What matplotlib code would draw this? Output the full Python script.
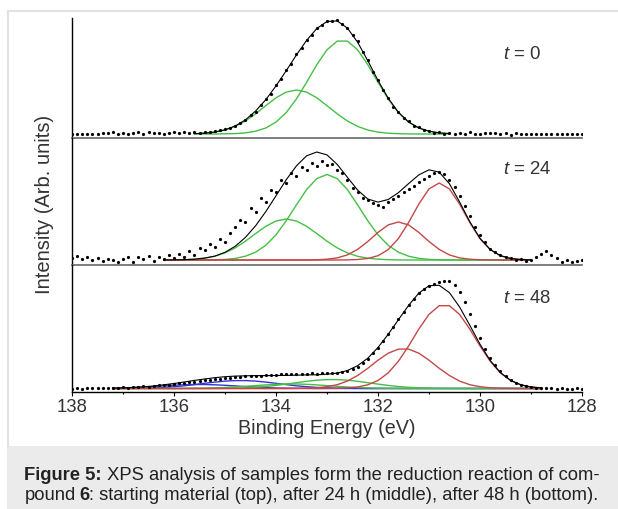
import numpy as np
import matplotlib
matplotlib.use("Agg")
from matplotlib import pyplot as plt
from matplotlib.lines import Line2D
from matplotlib.patches import Rectangle

plt.rcParams['font.family'] = ['Liberation Sans', 'DejaVu Sans']
plt.rcParams['mathtext.fontset'] = 'custom'
plt.rcParams['mathtext.it'] = 'Liberation Sans:italic'
plt.rcParams['mathtext.rm'] = 'Liberation Sans'

# measured points, every 0.1 eV from 138 to 128 eV
energy_dots = np.round(np.arange(138.0, 127.95, -0.1), 1)

dots_t0 = [0.0, 0.2, 0.0, 0.1, 0.3, 0.0, 1.5, 0.8, 1.8, 0.5, 1.2,
           -0.3, 0.9, 1.6, 0.4, 2.0, 0.7, 1.4, -0.2, 1.1, 1.9,
           0.6, 1.7, 1.0, 2.2, 1.3, 2.1, 1.8, 3.0, 3.6, 4.8,
           6.5, 8.4, 11.5, 14.0, 19.1, 22.4, 29.0, 35.2, 40.3, 49.0,
           55.0, 64.2, 70.5, 79.8, 86.0, 94.5, 99.2, 106.3, 109.0, 113.4,
           112.8, 114.2, 109.6, 106.5, 98.7, 92.6, 82.2, 74.0, 62.5, 54.3,
           43.6, 36.5, 27.5, 22.4, 15.8, 12.6, 8.0, 6.7, 3.6, 3.4,
           1.3, 1.8, 0.2, 1.2, -0.4, 1.0, 0.3, 1.6, 0.5, -0.3,
           1.1, 0.6, 1.4, 0.0, 0.8, -0.5, 0.7, 0.2, 0.4, 0.0,
           0.1, 0.0, 0.2, 0.0, 0.1, 0.0, 0.1, 0.0, 0.0, 0.0]

dots_t24 = [2.5, 4.0, 1.5, 3.2, 0.5, 2.0, -0.5, 1.0, 0.3, -1.5, 1.2,
            3.5, -2.0, 2.8, 0.6, 4.5, -1.0, 3.0, 1.5, 5.0, 2.0,
            6.5, 3.5, 9.0, 5.5, 12.5, 10.0, 16.0, 13.5, 21.0, 18.0,
            27.5, 33.0, 40.5, 38.0, 52.0, 48.5, 62.0, 58.0, 70.5, 68.0,
            80.0, 77.0, 87.5, 84.0, 93.0, 90.5, 97.0, 94.0, 99.0, 95.5,
            96.0, 90.0, 87.5, 80.0, 72.0, 68.5, 62.0, 60.0, 57.5, 55.0,
            53.0, 58.0, 61.0, 64.5, 68.0, 71.0, 74.5, 78.0, 81.0, 84.5,
            87.0, 88.5, 86.0, 80.5, 73.0, 64.0, 54.0, 44.0, 33.5, 25.0,
            18.0, 11.5, 8.0, 5.5, 3.0, 2.0, 0.5, 1.5, -1.0, 0.5,
            3.0, 6.5, 9.0, 5.0, 2.0, -1.5, 0.0, -2.0, -1.0, 0.5]

dots_t48 = [0.0, 0.2, 0.0, 0.3, 0.1, 0.4, 0.2, 0.6, 0.8, 0.5, 1.2,
            1.0, 1.5, 1.8, 2.2, 2.0, 2.8, 3.1, 3.6, 3.9, 4.5,
            5.2, 5.5, 6.4, 7.0, 7.5, 8.3, 8.8, 9.4, 9.6, 10.3,
            10.6, 11.4, 11.8, 12.1, 12.6, 13.0, 12.8, 13.5, 13.9, 13.6,
            14.2, 14.5, 14.3, 14.8, 15.0, 14.7, 15.1, 14.9, 15.3, 15.6,
            15.4, 16.0, 16.8, 18.0, 19.5, 22.0, 25.5, 30.0, 35.5, 41.0,
            48.0, 55.0, 62.0, 69.5, 77.0, 84.0, 90.0, 95.5, 99.5, 102.5,
            105.0, 106.5, 108.0, 107.5, 104.0, 97.0, 86.5, 75.0, 62.5, 50.5,
            40.0, 31.0, 23.5, 17.5, 12.5, 9.0, 6.0, 4.0, 2.5, 1.5,
            0.8, 0.4, 0.2, 0.1, 0.0, 0.1, 0.0, 0.0, 0.1, 0.0]

# fitted components, every 0.2 eV over each fit window
energy_fit_t0 = np.round(np.arange(135.6, 130.55, -0.2), 1)
green1_t0 = [0.0, 0.0, 0.0, 0.2, 0.4, 1.1, 2.8, 6.0, 11.9, 21.4, 35.0, 51.7, 69.3,
             84.2, 92.9, 92.9, 84.2, 69.3, 51.7, 35.0, 21.4, 11.9, 6.0, 2.8, 1.1, 0.4]
green2_t0 = [0.3, 0.8, 1.9, 4.0, 7.6, 13.0, 20.2, 28.3, 36.2, 41.9, 44.0, 41.9, 36.2,
             28.3, 20.2, 13.0, 7.6, 4.0, 1.9, 0.8, 0.3, 0.1, 0.0, 0.0, 0.0, 0.0]

energy_fit_t24 = np.round(np.arange(136.2, 128.95, -0.2), 1)
green1_t24 = [0.0, 0.0, 0.0, 0.0, 0.1, 0.2, 0.6, 1.6, 3.8, 7.8, 14.7, 25.2, 39.2,
              55.1, 70.4, 81.4, 85.5, 81.4, 70.4, 55.1, 39.2, 25.2, 14.7, 7.8, 3.8,
              1.6, 0.6, 0.2, 0.1, 0.0, 0.0, 0.0, 0.0, 0.0, 0.0, 0.0, 0.0]
green2_t24 = [0.0, 0.1, 0.3, 0.8, 1.8, 3.7, 7.1, 12.1, 18.8, 26.4, 33.7, 39.0, 41.0,
              39.0, 33.7, 26.4, 18.8, 12.1, 7.1, 3.7, 1.8, 0.8, 0.3, 0.1, 0.0,
              0.0, 0.0, 0.0, 0.0, 0.0, 0.0, 0.0, 0.0, 0.0, 0.0, 0.0, 0.0]
red1_t24 = [0.0, 0.0, 0.0, 0.0, 0.0, 0.0, 0.0, 0.0, 0.0, 0.0, 0.0, 0.0, 0.0,
            0.0, 0.0, 0.0, 0.0, 0.0, 0.1, 0.5, 1.5, 4.3, 10.4, 21.4, 37.5,
            55.9, 71.1, 77.0, 71.1, 55.9, 37.5, 21.4, 10.4, 4.3, 1.5, 0.5, 0.1]
red2_t24 = [0.0, 0.0, 0.0, 0.0, 0.0, 0.0, 0.0, 0.0, 0.0, 0.0, 0.0, 0.0, 0.0,
            0.0, 0.1, 0.2, 0.8, 2.1, 5.1, 10.6, 18.5, 27.6, 35.1, 38.0, 35.1,
            27.6, 18.5, 10.6, 5.1, 2.1, 0.8, 0.2, 0.1, 0.0, 0.0, 0.0, 0.0]

energy_fit_t48 = np.round(np.arange(137.2, 128.75, -0.2), 1)
red1_t48 = [0.0] * 21 + [0.1, 0.2, 0.6, 1.5, 3.7, 8.0, 15.6, 27.3, 42.5, 59.4, 74.1,
                         82.8, 82.8, 74.1, 59.4, 42.5, 27.3, 15.6, 8.0, 3.7, 1.5, 0.6]
red2_t48 = [0.0] * 18 + [0.1, 0.3, 0.7, 1.8, 3.8, 7.4, 13.0, 20.2, 28.3, 35.3, 39.4,
                         39.4, 35.3, 28.3, 20.2, 13.0, 7.4, 3.8, 1.8, 0.7, 0.3, 0.1,
                         0.0, 0.0, 0.0]
blue1_t48 = [0.0, 0.1, 0.2, 0.3, 0.6, 1.1, 1.8, 2.7, 3.9, 5.2, 6.4, 7.4, 7.9, 7.9,
             7.4, 6.4, 5.2, 3.9, 2.7, 1.8, 1.1, 0.6, 0.3, 0.2, 0.1] + [0.0] * 18
blue2_t48 = [0.3, 0.5, 0.9, 1.4, 1.9, 2.6, 3.2, 3.7, 4.0, 4.0, 3.7, 3.2, 2.6, 1.9,
             1.4, 0.9, 0.5, 0.3, 0.2, 0.1] + [0.0] * 23
green1_t48 = [0.0] * 10 + [0.1, 0.2, 0.4, 0.7, 1.2, 2.0, 3.1, 4.4, 5.8, 7.2, 8.3, 8.9,
                           8.9, 8.3, 7.2, 5.8, 4.4, 3.1, 2.0, 1.2, 0.7, 0.4, 0.2, 0.1] + [0.0] * 9
green2_t48 = [0.0] * 7 + [0.1, 0.2, 0.3, 0.6, 1.0, 1.5, 2.2, 2.9, 3.6, 4.2, 4.5, 4.5,
                          4.2, 3.6, 2.9, 2.2, 1.5, 1.0, 0.6, 0.3, 0.2, 0.1] + [0.0] * 14

panel_labels = ['0', '24', '48']

GREEN = '#45bf45'
RED = '#c44848'
BLUE = '#3434d6'
TXT = '#333333'

W, H = 618, 510


def box(left, top, right, bottom):
    return [left / W, 1 - bottom / H, (right - left) / W, (bottom - top) / H]


fig = plt.figure(figsize=(W / 100, H / 100), dpi=100)

# light frame and caption background
fig.add_artist(Line2D([8 / W, 1], [1 - 12 / H, 1 - 12 / H], transform=fig.transFigure,
                      color='#e2e2e2', lw=1.5))
fig.add_artist(Line2D([8 / W, 8 / W], [1 - 12 / H, 1 - 447 / H], transform=fig.transFigure,
                      color='#e2e2e2', lw=1.5))
fig.add_artist(Rectangle((7 / W, 0), 1, (H - 447) / H, transform=fig.transFigure,
                         facecolor='#ebebeb', edgecolor='none'))

ax_top = fig.add_axes(box(72, 19, 582, 139))
ax_mid = fig.add_axes(box(72, 139, 582, 266))
ax_bot = fig.add_axes(box(72, 266, 582, 392.5))

panels = [
    (ax_top, dots_t0, energy_fit_t0, [(green1_t0, GREEN), (green2_t0, GREEN)], (-4, 116), 0.70),
    (ax_mid, dots_t24, energy_fit_t24, [(green1_t24, GREEN), (green2_t24, GREEN),
                                        (red1_t24, RED), (red2_t24, RED)], (-5, 122), 0.756),
    (ax_bot, dots_t48, energy_fit_t48, [(blue2_t48, BLUE), (blue1_t48, BLUE),
                                        (green2_t48, GREEN), (green1_t48, GREEN),
                                        (red1_t48, RED), (red2_t48, RED)], (-3, 123.5), 0.747),
]

for i, (ax, dots, efit, comps, ylim, ty) in enumerate(panels):
    total = np.zeros(len(efit))
    for vals, col in comps:
        ax.plot(efit, vals, color=col, lw=1.0, zorder=2)
        total = total + np.array(vals)
    ax.plot(efit, total, color='black', lw=0.8, zorder=3)
    ax.plot(energy_dots, dots, linestyle='none', marker='o', ms=2.3, mew=0,
            color='black', zorder=4)

    ax.set_xlim(138, 128)
    ax.set_ylim(*ylim)
    ax.set_yticks([])
    ax.spines['top'].set_visible(False)
    ax.spines['right'].set_visible(False)
    ax.spines['left'].set_color('black')
    ax.spines['left'].set_linewidth(1.0)
    ax.patch.set_alpha(0)
    ax.text(0.845, ty, '$t$ = ' + panel_labels[i], transform=ax.transAxes,
            ha='left', va='center', fontsize=13.4, color=TXT)
    if ax is ax_bot:
        ax.spines['bottom'].set_color('black')
        ax.spines['bottom'].set_linewidth(1.0)
        ax.set_xticks([138, 136, 134, 132, 130, 128])
        ax.set_xticks([137, 135, 133, 131, 129], minor=True)
        ax.tick_params(axis='x', which='major', direction='out', length=3, width=0.8,
                       labelsize=13.3, labelcolor=TXT, pad=1.5)
        ax.tick_params(axis='x', which='minor', direction='out', length=1.6, width=0.8)
    else:
        ax.spines['bottom'].set_color('#666666')
        ax.spines['bottom'].set_linewidth(1.2)
        ax.set_xticks([])

fig.text(327 / W, 1 - 429 / H, 'Binding Energy (eV)', ha='center', va='center',
         fontsize=14.2, color=TXT)
fig.text(45 / W, 1 - 204 / H, 'Intensity (Arb. units)', ha='center', va='center',
         rotation=90, fontsize=14.5, color=TXT)

# caption with bold runs
renderer = fig.canvas.get_renderer()


def caption_line(x, y, parts):
    for s, weight, shift in parts:
        t = fig.text((x + shift) / W, 1 - y / H, s, ha='left', va='center', fontsize=13.2,
                     fontweight=weight, color='#222222')
        x += shift + t.get_window_extent(renderer).width


caption_line(24.5, 476, [('Figure 5:', 'bold', 0),
                         (' XPS analysis of samples form the reduction reaction of com-', 'normal', 0)])
caption_line(24.5, 496, [('pound', 'normal', 0), ('6', 'bold', 3.5),
                         (': starting material (top), after 24 h (middle), after 48 h (bottom).', 'normal', 0)])

fig.savefig('out.png', dpi=100)
plt.close(fig)
